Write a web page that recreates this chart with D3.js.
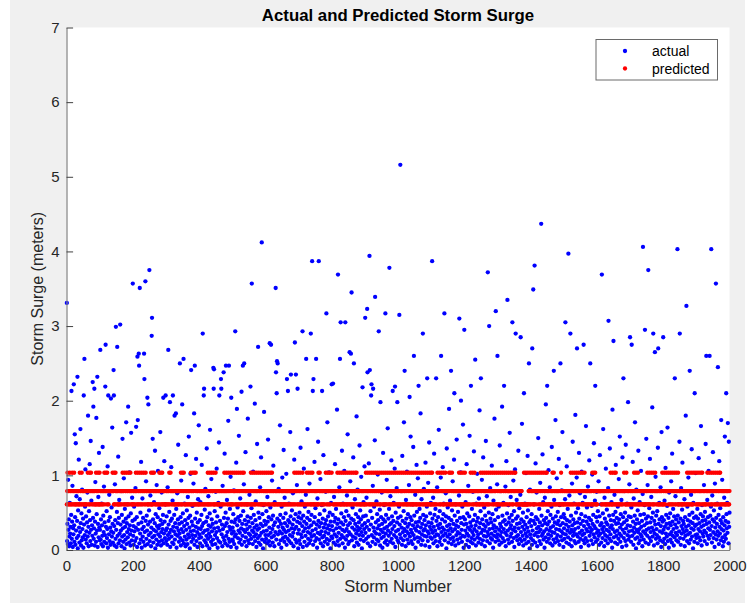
<!DOCTYPE html>
<html>
<head>
<meta charset="utf-8">
<script src="https://cdn.jsdelivr.net/npm/d3@7"></script>
<style>
  body { margin: 0; background: #fff; }
  text { font-family: 'Liberation Sans', Arial, Helvetica, sans-serif; fill: #262626; }
</style>
</head>
<body>
<script>
// chart text ------------------------------------------------
var chartTitle = 'Actual and Predicted Storm Surge';
var xLabel = 'Storm Number';
var yLabel = 'Storm Surge (meters)';
var seriesNames = ['actual', 'predicted'];
var xTicks = [0, 200, 400, 600, 800, 1000, 1200, 1400, 1600, 1800, 2000];
var yTicks = [0, 1, 2, 3, 4, 5, 6, 7];

// predicted surge only takes three values; codes below pick one per storm
var predictedLevels = [0.61, 0.79, 1.035];
var predictedCodes = [
  '01201011020110102101' + '10210100110101101002' + '11010210110110100101' + '01121011020112101101' + '10110100210101201002',
  '01101011010112101121' + '10210101111111111121' + '11020012110110100101' + '01101011210110201101' + '20110120110121101001',
  '01101011210110201101' + '20110120110121101021' + '11010010110110200102' + '01121011010110101102' + '10112100210101101001',
  '01101011020112101101' + '10110100110101101001' + '11012010120112100101' + '01101011010110201101' + '20110200120101101001',
  '01101011010110101101' + '10110200110201101201' + '11020010120110100101' + '01101011010110121101' + '12110102110102101002',
  '01101211010210101201' + '10120100120101201001' + '11010010110110120101' + '02101012010112101102' + '10110200110201101201',
  '01121011020110121102' + '10110100110101101001' + '11010010110110100101' + '01101011010110101101' + '10110120110121101021',
  '01102011010210101101' + '10112100112101102001' + '12010010110110100102' + '01121011010110101101' + '12110102110102101112',
  '11101011010110102101' + '10210100210101201001' + '21010020110120100121' + '01102011012110201101' + '10110100110101101001',
  '01201011210110201101' + '20110120110121101021' + '11012010112110102101' + '01201011210110201101' + '20110120110121101021',
  '01102011012110102101' + '10210100210101201001' + '21010020110120100121' + '01102011012110102101' + '10210100210101201002',
  '01201011010110101121' + '10112100112101102001' + '11210010110112100201' + '01201011010110101101' + '10120100120101121001',
  '02101011010110101121' + '10112100112101101001' + '11010010210110200101' + '21101021010120101121' + '10112100112101102001',
  '01201011210110201101' + '20110120110121101021' + '11012010112112100101' + '01101011010110000002' + '00000200000201101201',
  '01121011020110121101' + '12110102110102101002' + '11010210210110100101' + '01101211020110101101' + '10110100110201101001',
  '01101011010110101101' + '20110120110121101021' + '11012010112110102101' + '01201011010110101101' + '10110200112101201001',
  '01111111111110101101' + '10110100110101101001' + '21010020110120102101' + '01101011010110101101' + '12110100210101101001',
  '01101011010210101201' + '10120100110101101001' + '11010010110210100201' + '01121011020110121101' + '10110100110101102001',
  '01201011211111201101' + '20110120110121101021' + '11012010110110100101' + '01101011010210101201' + '10120100120111121101',
  '02101012010112101201' + '10110100110121101021' + '11012010112110102101' + '01201011210210101101' + '10110100110101101001'
].join('');

// actual surge (meters), storms 1..2000, 20 per line
var actual = [
  // 1-100
  3.31,0.12,0.35,0.08,0.94,0.27,0.41,0.05,0.18,0.63,0.22,0.31,0.09,0.47,2.13,0.15,0.38,0.86,0.04,0.29,
  0.21,2.22,0.33,0.11,1.55,0.44,0.07,1.43,0.26,0.72,0.16,0.39,2.32,0.02,0.53,0.19,1.21,0.30,0.10,0.68,
  0.24,1.62,0.36,0.06,0.49,0.13,0.81,0.28,0.17,0.42,0.03,2.07,0.34,2.56,0.20,0.58,1.08,0.14,0.45,0.25,
  0.09,0.37,0.77,0.18,1.80,0.31,0.05,0.52,0.23,1.15,0.40,0.12,1.46,0.27,0.66,0.07,0.33,0.19,2.25,0.43,
  1.92,0.15,0.29,2.16,0.06,0.38,0.91,0.22,0.11,1.77,0.48,0.26,2.32,0.04,0.35,0.71,0.17,1.30,0.30,0.13,
  // 101-200
  0.27,2.68,0.14,0.41,0.08,0.62,0.33,0.19,1.38,0.05,0.46,0.24,0.85,0.11,0.37,0.20,2.19,2.75,0.31,0.09,
  0.52,0.16,0.28,1.12,0.03,2.07,0.39,0.21,0.74,0.12,0.44,0.30,0.07,2.03,0.25,0.57,0.18,1.64,0.35,0.10,
  0.23,2.41,2.07,0.32,0.06,0.88,0.40,0.15,2.99,0.27,0.04,0.51,2.72,0.19,0.36,1.25,0.09,0.43,0.67,0.22,
  0.13,3.02,0.34,0.26,0.79,0.05,0.47,0.18,1.49,0.29,0.11,0.38,0.96,0.20,0.02,0.55,0.31,0.14,0.42,1.71,
  0.08,0.36,0.24,0.61,0.17,1.92,0.45,0.28,0.10,1.04,0.33,0.21,0.06,0.49,1.57,0.26,0.13,0.70,0.39,3.57,
  // 201-300
  0.19,0.32,0.07,0.58,0.25,0.41,0.12,0.83,0.30,1.65,0.16,0.44,0.04,2.59,1.74,0.27,0.35,2.63,2.47,0.09,
  3.51,0.22,0.50,0.14,1.18,0.37,0.03,0.28,0.69,0.18,0.43,0.11,0.31,2.63,2.29,0.24,0.06,3.60,0.39,0.92,
  0.15,0.46,0.26,2.04,0.08,0.34,1.95,0.20,0.53,3.75,0.12,0.38,0.73,0.23,0.05,0.30,2.87,3.11,0.17,1.49,
  0.41,0.10,0.27,0.64,0.19,0.36,1.33,0.02,0.48,0.25,0.14,0.87,0.32,0.07,0.44,1.06,0.21,0.29,0.11,0.56,
  0.33,0.18,1.58,0.40,0.06,0.24,0.77,0.13,0.35,0.28,0.47,2.04,0.09,0.22,1.19,0.38,0.16,0.61,2.07,0.26,
  // 301-400
  0.12,0.45,0.29,0.07,0.84,0.20,2.68,0.34,0.15,0.51,0.23,1.98,0.04,0.39,0.27,1.11,0.18,0.42,0.10,0.66,
  2.07,0.31,0.08,0.25,0.47,1.80,0.14,0.36,0.21,1.83,0.55,0.03,0.30,0.76,0.19,0.41,1.41,0.26,0.11,0.35,
  0.22,2.50,0.16,0.44,0.06,0.93,0.28,0.37,1.95,0.13,0.49,0.24,2.56,0.09,0.32,0.62,0.18,0.40,0.05,1.27,
  0.27,0.14,0.53,0.35,0.08,0.71,0.21,0.43,1.52,0.17,0.30,0.02,0.46,1.02,0.25,2.41,0.11,0.38,0.20,0.59,
  0.33,0.15,0.89,0.26,1.83,0.07,2.47,0.42,0.19,0.31,1.22,0.12,0.50,0.24,0.04,0.37,0.68,0.29,1.67,0.16,
  // 401-500
  0.21,0.40,0.09,0.64,0.28,0.17,0.47,1.14,0.32,0.05,2.90,0.23,0.36,2.07,2.16,0.13,0.54,0.26,0.82,0.10,
  0.38,0.19,1.36,0.06,0.44,0.27,0.15,0.72,0.33,0.22,0.02,0.49,1.61,0.18,0.31,0.11,0.95,0.41,0.25,0.07,
  0.35,0.14,2.44,2.16,2.42,0.29,0.52,0.20,0.08,0.78,0.37,0.24,1.09,0.16,0.45,0.03,0.30,0.63,0.12,1.44,
  2.07,0.26,0.39,0.10,0.58,2.29,2.16,0.21,0.34,0.05,0.86,0.28,0.17,2.38,0.43,0.13,1.29,0.32,0.09,0.50,
  2.47,0.19,0.36,0.67,0.24,0.06,0.42,1.73,0.15,2.47,0.31,0.11,0.55,0.27,0.98,0.04,2.04,0.38,0.22,0.14,
  // 501-600
  0.30,0.12,0.48,0.25,0.80,0.08,0.37,0.18,2.93,0.41,0.21,1.17,0.03,1.89,0.33,0.57,0.16,0.44,0.26,1.53,
  0.10,0.39,0.23,0.69,0.14,0.46,0.29,2.12,0.07,0.35,0.19,2.47,0.52,0.27,0.88,2.50,0.11,0.40,0.24,1.31,
  0.17,0.34,0.05,0.61,0.28,0.45,1.76,0.13,0.38,0.22,0.09,0.74,0.31,0.20,2.19,0.43,0.15,0.56,3.57,0.26,
  0.36,0.08,1.05,0.24,0.47,0.18,0.30,1.96,0.12,0.40,0.65,0.21,0.04,0.33,1.42,0.27,0.16,2.72,0.50,0.10,
  0.29,0.43,0.19,0.84,0.07,0.35,1.24,0.23,4.12,0.14,0.48,0.32,0.02,0.60,0.25,1.85,0.39,0.11,0.79,0.20,
  // 601-700
  0.34,0.15,0.52,0.26,0.09,0.71,0.38,1.48,0.20,0.44,0.12,0.30,2.77,0.06,0.57,0.23,2.75,0.41,0.17,0.93,
  0.28,0.10,0.46,1.13,0.33,0.19,0.05,0.64,0.37,0.24,3.51,2.38,0.14,2.10,2.53,0.42,2.50,0.21,0.31,0.82,
  0.08,0.39,0.25,1.67,0.47,0.13,0.35,0.03,0.58,0.22,0.97,0.30,0.16,0.43,1.34,0.27,0.11,0.70,0.36,0.18,
  0.49,0.24,1.02,0.07,2.29,0.32,0.15,2.13,0.40,0.26,0.62,0.12,0.37,0.20,1.58,0.45,2.35,0.09,0.29,0.53,
  0.18,0.34,0.76,0.23,0.05,0.41,1.21,0.28,2.78,0.14,0.48,2.35,0.31,0.10,0.87,0.38,2.16,0.22,0.02,0.44,
  // 701-800
  0.27,0.13,0.50,0.36,0.08,1.37,0.21,0.42,0.65,0.17,0.32,2.93,0.04,0.46,0.25,1.09,0.38,0.11,0.58,0.29,
  0.19,0.74,2.56,0.35,0.06,0.43,1.62,0.24,0.15,0.51,0.30,0.09,0.89,0.40,0.22,0.13,2.90,0.33,0.47,0.18,
  3.87,0.26,2.13,0.07,2.29,0.37,0.20,1.18,0.44,0.12,0.56,0.28,2.56,0.16,0.34,0.03,0.69,0.23,1.45,0.39,
  3.87,0.14,0.31,0.48,0.21,0.95,0.09,0.36,0.25,0.60,2.13,0.17,0.42,0.05,1.27,0.30,0.19,0.53,0.11,0.35,
  0.24,0.78,0.40,3.17,0.15,0.29,1.71,0.08,0.45,0.22,0.33,1.04,0.13,0.50,0.27,0.02,0.38,0.63,0.18,2.22,
  // 801-900
  0.32,0.16,0.47,2.23,0.26,0.10,0.71,0.38,0.21,1.15,0.43,0.07,0.55,0.29,0.18,1.88,0.35,0.12,3.69,0.41,
  0.23,0.06,0.84,0.30,2.56,0.15,3.05,0.37,0.49,0.20,1.33,0.27,0.09,0.62,0.34,0.17,0.44,1.06,0.25,0.03,
  3.05,0.39,0.14,0.52,0.28,0.73,0.19,1.55,0.33,0.08,0.46,0.24,0.11,2.65,0.36,0.92,0.21,2.63,0.42,3.45,
  0.13,0.30,0.57,0.18,1.24,0.40,2.50,0.05,0.27,0.68,0.35,0.16,0.48,0.22,1.79,0.10,0.31,0.81,0.26,0.44,
  0.07,0.37,0.20,1.40,0.29,0.53,0.14,0.41,0.98,0.24,0.02,0.33,2.18,0.19,0.45,0.64,0.12,0.28,1.12,0.36,
  // 901-1000
  3.11,0.23,0.46,0.15,0.70,0.31,3.23,2.38,0.09,0.39,0.18,1.16,0.27,3.94,2.41,0.05,0.52,0.34,2.07,2.22,
  0.20,0.43,0.11,0.86,2.16,0.30,0.17,0.58,0.25,1.47,3.39,0.08,0.37,0.22,0.65,0.14,0.48,0.29,1.01,0.40,
  0.12,2.93,0.33,0.21,0.54,0.06,1.98,0.27,0.44,0.16,0.77,0.35,0.03,0.24,1.30,0.41,0.18,0.60,0.29,0.10,
  0.38,3.17,0.22,0.47,0.13,0.94,0.31,0.07,1.63,0.26,0.42,0.19,0.55,3.78,0.34,0.11,0.72,0.23,0.36,1.20,
  0.15,0.45,0.28,2.13,0.09,0.39,0.63,0.20,0.32,1.09,2.19,0.04,0.50,0.25,0.17,0.83,0.37,1.98,0.13,0.43,
  // 1001-1100
  0.27,0.10,0.58,3.15,0.34,0.21,5.16,0.45,0.16,0.79,0.30,0.07,1.26,0.39,0.24,0.13,0.52,1.71,0.28,2.40,
  0.19,0.36,0.05,0.67,0.42,0.25,1.05,0.14,0.31,0.48,0.22,0.09,0.87,0.35,2.05,0.18,0.44,1.52,0.27,0.12,
  0.40,0.23,0.61,0.08,0.33,1.38,0.20,2.60,0.46,0.15,0.29,0.74,0.03,0.37,0.26,1.14,0.51,0.17,0.32,0.96,
  0.11,2.20,0.38,0.24,0.55,0.16,0.43,1.83,0.30,0.07,0.68,0.21,0.35,0.13,2.90,0.47,0.26,0.82,0.19,0.40,
  0.28,0.06,1.17,0.33,0.45,0.18,0.58,2.30,0.25,0.12,0.90,0.37,0.22,1.44,0.04,0.31,0.49,0.17,0.63,0.27,
  // 1101-1200
  0.36,0.15,3.87,0.42,0.23,0.70,0.09,0.31,1.29,0.47,0.18,0.26,0.55,0.12,2.30,0.39,0.21,0.84,0.05,0.33,
  0.44,0.20,1.61,0.29,0.11,0.52,0.35,0.16,0.97,2.60,0.24,0.07,0.41,0.30,1.11,0.19,0.48,0.62,0.27,3.17,
  0.13,0.38,0.22,0.76,0.45,0.02,1.36,0.32,0.18,0.57,0.26,0.10,0.43,1.89,0.34,0.21,0.66,0.15,0.29,2.40,
  0.40,0.08,0.53,0.25,0.92,0.17,0.35,0.12,1.21,2.10,0.46,0.28,0.06,0.61,0.33,0.20,1.48,0.39,0.14,0.24,
  0.51,0.31,0.09,0.73,3.10,0.22,0.43,0.16,1.04,2.00,0.36,0.27,0.11,0.58,0.19,1.68,0.44,0.03,0.34,2.95,
  // 1201-1300
  0.18,0.41,0.26,0.64,0.07,0.35,1.15,0.22,0.49,0.13,0.30,0.86,0.19,0.04,0.45,1.53,0.27,0.37,0.11,2.20,
  0.32,0.16,0.55,0.24,0.09,0.78,0.40,0.20,1.32,0.28,0.14,0.47,2.55,0.33,0.06,0.62,0.25,0.38,1.02,0.17,
  0.43,0.21,0.10,0.69,0.30,1.87,0.15,0.36,0.52,2.30,0.23,0.08,0.94,0.41,0.27,0.13,1.24,0.34,0.19,0.57,
  0.26,0.05,0.46,0.31,1.46,0.18,0.39,0.72,0.12,0.24,3.72,0.35,0.20,0.50,3.00,0.28,0.09,0.83,0.42,0.16,
  0.37,0.22,1.13,0.14,0.48,0.29,0.03,0.66,0.33,0.19,1.76,0.40,0.25,0.11,3.20,0.54,0.30,0.17,0.88,2.60,
  // 1301-1400
  0.21,0.44,0.13,0.58,0.27,0.07,1.40,0.35,0.19,0.79,0.31,0.24,0.10,1.92,0.46,0.16,0.38,0.63,0.28,2.20,
  0.12,0.40,0.23,0.85,0.05,0.34,1.19,0.20,0.49,3.35,0.26,0.14,0.60,0.37,0.09,0.43,1.57,0.29,0.18,0.71,
  0.33,0.22,0.47,0.11,3.05,0.39,0.27,0.93,0.16,0.52,0.04,0.30,1.08,0.25,2.90,0.42,0.18,0.67,0.35,0.13,
  0.45,0.20,1.33,0.29,0.08,0.56,0.36,0.15,0.74,2.85,0.24,0.41,0.12,1.69,0.31,0.19,0.50,0.06,0.38,2.10,
  0.27,0.14,0.62,0.34,0.22,1.03,0.09,0.44,0.18,0.30,1.26,0.53,0.25,0.11,2.50,0.37,0.02,0.81,0.21,0.40,
  // 1401-1500
  0.16,0.32,0.48,0.07,2.70,0.26,0.13,3.49,0.39,0.61,0.20,3.81,0.35,0.10,1.16,0.44,0.23,0.77,0.29,0.05,
  0.41,0.18,1.50,0.31,0.24,0.55,0.12,0.37,0.90,0.27,0.08,4.37,0.46,0.19,0.33,1.28,0.22,0.64,0.14,0.40,
  0.25,0.03,0.70,0.36,0.17,1.95,0.43,0.28,0.11,2.20,0.34,0.52,0.21,1.07,0.15,0.38,0.26,0.84,0.09,0.47,
  0.30,0.19,0.58,1.38,0.24,0.06,0.42,0.32,0.14,2.40,0.67,0.23,0.37,0.10,1.74,0.45,0.28,0.16,0.96,0.35,
  0.20,0.51,0.12,0.39,1.22,0.27,0.07,0.60,0.33,2.50,0.18,0.44,0.25,0.80,0.13,1.58,0.36,0.22,0.04,0.48,
  // 1501-1600
  0.29,0.15,0.43,0.68,3.05,0.21,0.34,0.10,1.12,0.40,0.26,0.55,0.17,3.97,0.31,0.08,0.73,0.38,0.23,2.90,
  0.14,0.46,0.27,0.05,0.89,0.33,1.45,0.19,0.41,0.24,0.62,0.12,0.36,0.28,1.81,0.09,0.50,0.21,0.97,2.70,
  0.37,0.18,0.56,0.30,0.11,1.30,0.42,0.23,0.76,0.15,0.35,0.04,0.48,1.05,0.26,0.20,0.63,0.39,0.13,2.75,
  0.32,0.22,0.09,0.71,0.45,0.16,1.66,0.28,0.38,0.57,0.12,0.25,0.85,0.34,0.06,0.43,1.20,0.19,0.30,2.50,
  0.24,0.40,0.13,0.59,0.27,1.01,0.35,0.08,0.47,0.21,1.43,0.32,0.17,0.66,2.20,0.29,0.11,0.44,0.78,0.23,
  // 1601-1700
  0.38,0.14,0.52,0.26,0.92,0.19,0.07,0.45,1.27,0.33,0.22,0.61,0.10,0.36,3.69,0.28,0.16,0.49,1.62,0.24,
  0.31,0.05,0.70,0.42,0.20,0.13,1.09,0.37,0.27,0.54,0.18,0.34,0.09,0.83,3.07,0.25,0.46,0.15,1.36,0.30,
  0.21,0.40,0.12,0.64,0.33,0.03,1.88,0.28,0.47,2.80,0.17,0.39,0.74,0.24,0.10,0.51,1.14,0.35,0.19,0.43,
  0.26,0.08,0.58,0.36,0.15,0.95,0.41,0.22,1.52,0.30,0.11,0.48,0.19,0.67,0.34,0.04,1.24,0.27,0.44,2.30,
  0.16,0.37,0.23,0.79,0.50,0.12,1.41,0.29,0.06,0.40,0.62,0.20,0.33,1.98,0.14,0.45,0.25,0.88,0.18,2.85,
  // 1701-1800
  0.32,0.44,0.11,0.57,2.75,0.26,0.19,1.18,0.38,0.07,0.69,0.30,0.23,0.46,1.71,0.15,0.35,0.02,0.81,0.27,
  0.41,0.17,0.53,0.24,1.33,0.09,0.36,0.28,0.64,0.13,0.47,0.21,1.06,0.31,0.18,0.39,0.05,0.75,4.06,0.25,
  0.14,0.48,0.33,0.60,2.95,0.22,0.10,0.42,1.49,0.27,0.36,0.19,0.87,0.45,3.75,0.08,0.29,0.56,0.16,1.22,
  0.37,0.24,0.12,0.71,0.43,0.30,1.91,0.18,0.50,2.90,0.26,0.06,0.39,0.22,2.65,0.34,0.98,0.15,0.46,0.28,
  0.20,0.52,0.09,1.37,2.70,0.35,0.17,0.63,0.41,0.25,0.13,0.84,0.32,0.04,1.58,0.44,0.23,0.38,0.11,2.85,
  // 1801-1900
  0.27,0.40,0.15,0.66,0.31,0.08,1.10,0.22,0.47,0.35,0.18,0.59,1.64,0.12,0.29,0.43,0.03,0.77,0.36,0.21,
  0.49,0.14,0.33,0.92,0.24,0.10,1.29,0.38,0.19,0.55,0.28,0.06,0.45,0.17,2.30,0.34,0.72,0.23,0.41,0.13,
  0.30,0.20,4.03,0.46,0.11,0.61,0.37,0.25,1.45,2.90,0.16,0.42,0.07,0.83,0.32,0.22,0.54,1.17,0.28,0.39,
  0.15,0.35,0.24,0.68,0.05,0.44,0.19,1.80,0.31,3.27,0.26,0.12,0.58,0.40,0.21,0.97,0.33,0.09,0.47,2.40,
  0.23,0.38,0.14,0.74,0.29,1.35,0.18,0.50,0.36,0.02,0.63,0.27,0.43,0.11,2.10,0.32,0.20,1.03,0.45,0.16,
  // 1901-2000
  0.34,0.21,0.55,0.09,0.42,0.28,1.23,0.17,0.36,0.79,0.25,0.13,0.48,1.66,0.31,0.06,0.60,0.39,0.22,0.45,
  0.18,0.33,0.87,0.26,0.12,0.51,0.40,1.42,0.23,2.60,0.35,0.08,0.67,0.19,0.44,0.29,1.06,0.15,0.37,2.60,
  0.27,0.46,0.20,0.58,4.03,0.32,0.10,0.73,0.41,1.31,0.24,0.16,0.53,0.38,0.04,0.89,0.30,0.21,3.57,0.43,
  0.14,0.35,0.62,0.25,2.45,0.19,0.47,0.08,1.19,0.31,0.22,0.56,0.40,0.13,1.74,0.28,0.36,0.94,0.17,0.05,
  0.44,0.26,0.11,0.70,0.33,1.52,0.20,0.39,0.15,2.10,0.48,0.29,0.63,0.23,1.70,0.37,0.09,1.45,0.31,0.50
];

var predicted = predictedCodes.split('').map(function(c) {
  return predictedLevels[+c];
});
if (predicted.length !== actual.length) {
  console.log('length mismatch', predicted.length, actual.length);
}

// layout -----------------------------------------------------
var W = 755, H = 605;
var plot = { left: 66.5, right: 729.5, top: 27.5, bottom: 550 };
var dotR = 2.15;

var x = d3.scaleLinear().domain([0, 2000]).range([plot.left, plot.right]);
var y = d3.scaleLinear().domain([0, 7]).range([plot.bottom, plot.top]);

var svg = d3.select('body').append('svg')
  .attr('width', W)
  .attr('height', H);

// grey figure background + white axes area
svg.append('rect')
  .attr('x', 10).attr('y', 0)
  .attr('width', 735).attr('height', 603)
  .attr('fill', '#f0f0f0');

svg.append('rect')
  .attr('x', plot.left).attr('y', plot.top)
  .attr('width', plot.right - plot.left)
  .attr('height', plot.bottom - plot.top)
  .attr('fill', '#fff');

// series ------------------------------------------------------
var stormNumber = function(d, i) { return x(i + 1); };

svg.append('g').attr('class', 'actual')
  .selectAll('circle')
  .data(actual)
  .enter()
  .append('circle')
  .attr('cx', stormNumber)
  .attr('cy', function(d) { return y(d); })
  .attr('r', dotR)
  .attr('fill', '#0000ff');

svg.append('g').attr('class', 'predicted')
  .selectAll('circle')
  .data(predicted)
  .enter()
  .append('circle')
  .attr('cx', stormNumber)
  .attr('cy', function(d) { return y(d); })
  .attr('r', dotR)
  .attr('fill', '#ff0000');

// axes (ticks point inward, like matlab) ----------------------
var plainNumber = function(d) { return String(d); };

var xAxis = d3.axisBottom(x)
  .tickValues(xTicks)
  .tickFormat(plainNumber)
  .tickSizeInner(-6.6)
  .tickSizeOuter(0)
  .tickPadding(10);

var yAxis = d3.axisLeft(y)
  .tickValues(yTicks)
  .tickFormat(plainNumber)
  .tickSizeInner(-6.6)
  .tickSizeOuter(0)
  .tickPadding(7);

var gx = svg.append('g')
  .attr('transform', 'translate(0,' + plot.bottom + ')')
  .call(xAxis);

var gy = svg.append('g')
  .attr('transform', 'translate(' + plot.left + ',0)')
  .call(yAxis);

[gx, gy].forEach(function(g) {
  g.select('.domain').attr('stroke', '#828282').attr('stroke-width', 1.2);
  g.selectAll('.tick line').attr('stroke', '#404040');
  g.selectAll('.tick text')
    .attr('fill', '#262626')
    .style('font-size', '15px')
    .style('font-family', "'Liberation Sans', Arial, sans-serif");
});

// labels ------------------------------------------------------
svg.append('text')
  .attr('x', 398).attr('y', 21)
  .attr('text-anchor', 'middle')
  .style('font-size', '16.8px')
  .style('font-weight', 'bold')
  .style('fill', '#000')
  .text(chartTitle);

svg.append('text')
  .attr('x', 398).attr('y', 592)
  .attr('text-anchor', 'middle')
  .style('font-size', '16.5px')
  .text(xLabel);

svg.append('text')
  .attr('transform', 'translate(43,' + ((plot.top + plot.bottom) / 2) + ') rotate(-90)')
  .attr('text-anchor', 'middle')
  .style('font-size', '16px')
  .text(yLabel);

// legend ------------------------------------------------------
var legend = svg.append('g');
legend.append('rect')
  .attr('x', 596).attr('y', 39.5)
  .attr('width', 121.5).attr('height', 40.5)
  .attr('fill', '#fff')
  .attr('stroke', '#6a6a6a')
  .attr('stroke-width', 1);

var legendColors = ['#0000ff', '#ff0000'];
var legendY = [51, 68.5];

legend.selectAll('circle')
  .data(seriesNames)
  .enter()
  .append('circle')
  .attr('cx', 625)
  .attr('cy', function(d, i) { return legendY[i]; })
  .attr('r', dotR)
  .attr('fill', function(d, i) { return legendColors[i]; });

legend.selectAll('text')
  .data(seriesNames)
  .enter()
  .append('text')
  .attr('x', 652)
  .attr('y', function(d, i) { return legendY[i] + 5; })
  .style('font-size', '14px')
  .style('fill', '#000')
  .text(function(d) { return d; });
</script>
</body>
</html>
